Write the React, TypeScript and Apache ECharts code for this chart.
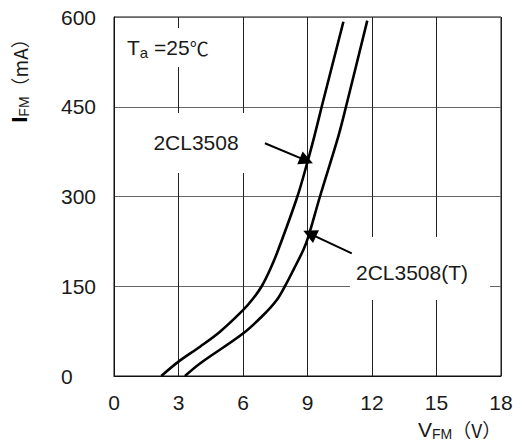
import React, { useEffect, useRef } from "react";
import * as echarts from "echarts";

// Curve 2CL3508 (V, mA)
const V1 = [2.2, 3, 4, 4.93, 6, 6.48, 6.87, 7.26, 7.64, 8.53, 9, 9.3, 9.66, 10.67];
const I1 = [0, 24, 49, 74, 110, 130, 150, 178, 211, 300, 358, 398, 450, 592];
// Curve 2CL3508(T)
const V2 = [3.3, 4, 6, 6.95, 7.57, 7.95, 8.34, 8.81, 9.04, 9.58, 10.43, 10.79, 11.78];
const I2 = [0, 21, 71, 102, 127, 150, 177, 211, 233, 300, 400, 450, 594];

const X_TICKS = [0, 3, 6, 9, 12, 15, 18];
const Y_TICKS = [0, 150, 300, 450, 600];

// annotation arrows: [tailV, tailI, tipV, tipI]
const ARROW1 = [7.02, 389, 8.95, 360];
const ARROW2 = [11.06, 205, 9.1, 238];

const FONT = "'Liberation Sans', Arial, 'Noto Sans CJK JP', sans-serif";
const CJK = "'Noto Sans CJK JP', sans-serif";
const TXT = "#1a1a1a";

export default function App() {
  const ref = useRef<HTMLDivElement>(null);
  useEffect(() => {
    if (!ref.current) return;
    const chart = echarts.init(ref.current, undefined, { renderer: "svg" });
    const s1 = V1.map((v, i) => [v, I1[i]]);
    const s2 = V2.map((v, i) => [v, I2[i]]);
    const arrowLine = (a: number[]) => [
      { coord: [a[0], a[1]], symbol: "none" },
      { coord: [a[2], a[3]], symbol: "triangle" },
    ];
    chart.setOption({
      animation: false,
      grid: {
        left: 114,
        right: 21,
        top: 17,
        bottom: 68,
        show: true,
        borderColor: "#111",
        borderWidth: 1,
      },
      xAxis: {
        type: "value",
        min: X_TICKS[0],
        max: X_TICKS[X_TICKS.length - 1],
        interval: 3,
        axisLine: { show: true, lineStyle: { color: "#111", width: 1 } },
        axisTick: { show: false },
        splitLine: { show: true, lineStyle: { color: "#222", width: 1 } },
        axisLabel: {
          margin: 16,
          fontSize: 21,
          color: TXT,
          fontFamily: FONT,
        },
      },
      yAxis: {
        type: "value",
        min: Y_TICKS[0],
        max: Y_TICKS[Y_TICKS.length - 1],
        interval: 150,
        axisLine: { show: true, lineStyle: { color: "#111", width: 1 } },
        axisTick: { show: false },
        splitLine: { show: true, lineStyle: { color: "#666", width: 1 } },
        axisLabel: {
          align: "left",
          margin: 53,
          fontSize: 21,
          color: TXT,
          fontFamily: FONT,
        },
      },
      series: [
        {
          type: "line",
          data: s1,
          smooth: 0.35,
          showSymbol: false,
          lineStyle: { color: "#000", width: 2.6 },
          z: 5,
          markLine: {
            silent: true,
            symbolSize: 14,
            label: { show: false },
            lineStyle: { color: "#000", width: 2, type: "solid" },
            itemStyle: { color: "#000" },
            data: [arrowLine(ARROW1), arrowLine(ARROW2)],
          },
        },
        {
          type: "line",
          data: s2,
          smooth: 0.35,
          showSymbol: false,
          lineStyle: { color: "#000", width: 2.6 },
          z: 5,
        },
      ],
      graphic: [
        { type: "rect", z: 3, shape: { x: 122, y: 28, width: 94, height: 39 }, style: { fill: "#fff" } },
        { type: "rect", z: 3, shape: { x: 130, y: 113, width: 132, height: 60 }, style: { fill: "#fff" } },
        { type: "rect", z: 3, shape: { x: 350, y: 237, width: 140, height: 63 }, style: { fill: "#fff" } },
        {
          type: "text",
          z: 10,
          x: 127,
          y: 47,
          style: {
            text: "{a|T}{b|a}{a| =25}{c|℃}",
            verticalAlign: "middle",
            fill: TXT,
            rich: {
              a: { fontSize: 21, fontFamily: FONT, fill: TXT, lineHeight: 26, verticalAlign: "middle" },
              b: { fontSize: 15, fontFamily: FONT, fill: TXT, lineHeight: 15, verticalAlign: "bottom" },
              c: { fontSize: 19, fontFamily: CJK, fill: TXT, lineHeight: 26, verticalAlign: "middle" },
            },
          },
        },
        {
          type: "text",
          z: 10,
          x: 196,
          y: 142,
          style: { text: "2CL3508", fontSize: 21, fontFamily: FONT, fill: TXT, align: "center", verticalAlign: "middle" },
        },
        {
          type: "text",
          z: 10,
          x: 412,
          y: 272,
          style: { text: "2CL3508(T)", fontSize: 21, fontFamily: FONT, fill: TXT, align: "center", verticalAlign: "middle" },
        },
        {
          type: "text",
          z: 10,
          x: 418,
          y: 429,
          style: {
            text: "{a|V}{b|FM}{c|（V）}",
            verticalAlign: "middle",
            fill: TXT,
            rich: {
              a: { fontSize: 21, fontFamily: FONT, fill: TXT, lineHeight: 24, verticalAlign: "middle" },
              b: { fontSize: 14, fontFamily: FONT, fill: TXT, lineHeight: 14, verticalAlign: "bottom" },
              c: { fontSize: 19, fontFamily: CJK, fill: TXT, lineHeight: 24, verticalAlign: "middle" },
            },
          },
        },
        {
          type: "text",
          z: 10,
          x: 19,
          y: 76,
          rotation: Math.PI / 2,
          style: {
            text: "{i|I}{b|FM}{c|（mA）}",
            align: "center",
            verticalAlign: "middle",
            fill: TXT,
            rich: {
              i: { fontSize: 22, fontWeight: "bold", fontFamily: FONT, fill: "#000", lineHeight: 24, verticalAlign: "middle" },
              b: { fontSize: 14, fontFamily: FONT, fill: TXT, lineHeight: 14, verticalAlign: "bottom" },
              c: { fontSize: 19, fontFamily: CJK, fill: TXT, lineHeight: 24, verticalAlign: "middle" },
            },
          },
        },
      ],
    });
    return () => chart.dispose();
  }, []);
  return (
    <div
      ref={ref}
      style={{ position: "fixed", left: 0, top: 0, width: 522, height: 444, background: "#fff" }}
    />
  );
}
